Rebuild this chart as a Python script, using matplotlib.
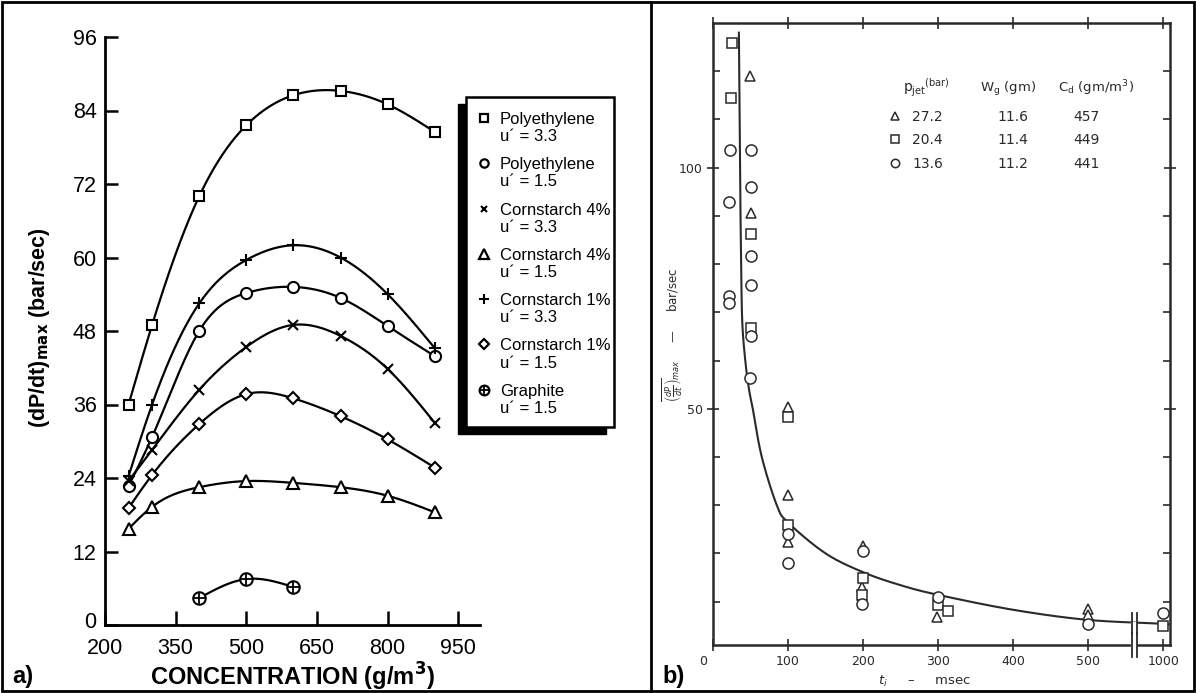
import numpy as np
import matplotlib
matplotlib.use("Agg")
import matplotlib.pyplot as plt
import matplotlib.transforms as mtransforms
from matplotlib.patches import Rectangle
from matplotlib.lines import Line2D

# ---------------- data: panel a ----------------
conc = [250, 300, 400, 500, 600, 700, 800, 900]
poly_33 = [36, 49, 70, 81.6, 86.5, 87.2, 85, 80.5]
poly_15 = [22.7, 30.7, 48, 54.2, 55.2, 53.4, 48.8, 43.9]
corn4_33 = [23.5, 28.6, 38.4, 45.4, 49, 47.2, 41.8, 33]
corn4_15 = [15.7, 19.3, 22.5, 23.5, 23.2, 22.5, 21.1, 18.4]
corn1_33 = [24.3, 36, 52.5, 59.6, 62, 60, 54, 45.2]
corn1_15 = [19.1, 24.5, 32.8, 37.7, 37, 34.1, 30.3, 25.7]
graphite_conc = [400, 500, 600]
graphite = [4.4, 7.5, 6.2]
legend_names = ["Polyethylene", "Polyethylene", "Cornstarch 4%", "Cornstarch 4%",
                "Cornstarch 1%", "Cornstarch 1%", "Graphite"]
legend_u = ["u\u00b4 = 3.3", "u\u00b4 = 1.5", "u\u00b4 = 3.3", "u\u00b4 = 1.5",
            "u\u00b4 = 3.3", "u\u00b4 = 1.5", "u\u00b4 = 1.5"]
xticks_a = [200, 350, 500, 650, 800, 950]
yticks_a = [0, 12, 24, 36, 48, 60, 72, 84, 96]

# ---------------- data: panel b ----------------
tri_t = [49, 50, 100, 100, 100, 200, 199, 299, 500, 500]
tri_v = [119, 90.5, 50.3, 32.2, 22.3, 21.5, 13, 6.8, 8.5, 7.2]
sq_t = [25, 24, 50, 50, 100, 100, 200, 199, 300, 313, 1000]
sq_v = [125.8, 114.5, 86.2, 66.7, 48.3, 25.8, 14.9, 11.4, 9.3, 8.1, 5.0]
ci_t = [23, 50, 50, 21, 50, 50, 21, 21, 50, 49, 100, 100, 200, 199, 300, 500, 1000]
ci_v = [103.7, 103.7, 95.9, 92.8, 81.6, 75.6, 73.3, 71.9, 65, 56.4, 24, 18, 20.5, 9.5, 11, 5.4, 7.6]
fit_t = [34.5, 36, 37.5, 39, 43, 48, 53, 65, 85, 100, 150, 200, 250, 300, 400, 500, 560, 1000]
fit_v = [128, 100, 80, 68, 60, 54, 50, 40, 30, 26.4, 20, 16.1, 13.4, 11.4, 8.3, 6.2, 5.4, 5.2]
xticks_b = [0, 100, 200, 300, 400, 500, 1000]
pjet = ["27.2", "20.4", "13.6"]
wg = ["11.6", "11.4", "11.2"]
cd = ["457", "449", "441"]

W, H = 1196, 693
fig = plt.figure(figsize=(W / 100, H / 100), dpi=100)


def axes_px(x0, y0, x1, y1):
    return fig.add_axes([x0 / W, 1 - y1 / H, (x1 - x0) / W, (y1 - y0) / H])


def fx(px):
    return px / W


def fy(py):
    return 1 - py / H


def natural_spline(x, y, n=300):
    x = np.asarray(x, float)
    y = np.asarray(y, float)
    m = len(x)
    h = np.diff(x)
    A = np.zeros((m, m))
    b = np.zeros(m)
    A[0, 0] = A[-1, -1] = 1
    for i in range(1, m - 1):
        A[i, i - 1] = h[i - 1]
        A[i, i] = 2 * (h[i - 1] + h[i])
        A[i, i + 1] = h[i]
        b[i] = 6 * ((y[i + 1] - y[i]) / h[i] - (y[i] - y[i - 1]) / h[i - 1])
    M = np.linalg.solve(A, b)
    xs = np.linspace(x[0], x[-1], n)
    idx = np.clip(np.searchsorted(x, xs) - 1, 0, m - 2)
    x0 = x[idx]
    x1 = x[idx + 1]
    hh = x1 - x0
    t0 = x1 - xs
    t1 = xs - x0
    ys = (M[idx] * t0 ** 3 + M[idx + 1] * t1 ** 3) / (6 * hh) \
        + (y[idx] / hh - M[idx] * hh / 6) * t0 + (y[idx + 1] / hh - M[idx + 1] * hh / 6) * t1
    return xs, ys


def catmull(px, py, n=30):
    P = np.column_stack([px, py])
    P = np.vstack([2 * P[0] - P[1], P, 2 * P[-1] - P[-2]])
    out = []
    t = np.linspace(0, 1, n, endpoint=False)[:, None]
    for i in range(1, len(P) - 2):
        p0, p1, p2, p3 = P[i - 1], P[i], P[i + 1], P[i + 2]
        pts = 0.5 * ((2 * p1) + (-p0 + p2) * t + (2 * p0 - 5 * p1 + 4 * p2 - p3) * t ** 2
                     + (-p0 + 3 * p1 - 3 * p2 + p3) * t ** 3)
        out.append(pts)
    out.append(P[-2][None, :])
    return np.vstack(out)


SANS = ["Liberation Sans", "DejaVu Sans"]

# ================= panel a =================
axA = axes_px(105, 37, 480, 625)
axA.set_xlim(200, 996)
axA.set_ylim(0, 96)
for s in ["top", "right"]:
    axA.spines[s].set_visible(False)
for s in ["left", "bottom"]:
    axA.spines[s].set_linewidth(2)
axA.set_xticks(xticks_a)
axA.set_yticks(yticks_a)
axA.set_xticklabels([str(v) for v in xticks_a], fontsize=15.5, family=SANS)
axA.set_yticklabels([str(v) for v in yticks_a], fontsize=15.5, family=SANS)
axA.tick_params(axis="x", direction="in", length=10, width=1.8, pad=9)
axA.tick_params(axis="y", direction="in", length=9, width=1.8, pad=6)
# lift the "0" label a little, as in the reference
lab0 = axA.get_yticklabels()[0]
lab0.set_transform(lab0.get_transform() + mtransforms.ScaledTranslation(0, 5 / 100, fig.dpi_scale_trans))

series = [
    (conc, poly_33, dict(marker="s", ms=7)),
    (conc, poly_15, dict(marker="o", ms=8)),
    (conc, corn4_33, dict(marker="x", ms=6.5, mew=1.5)),
    (conc, corn4_15, dict(marker="^", ms=8)),
    (conc, corn1_33, dict(marker="+", ms=8, mew=1.5)),
    (conc, corn1_15, dict(marker="D", ms=6.5)),
]
for x, y, mk in series:
    xs, ys = natural_spline(x, y)
    axA.plot(xs, ys, color="black", lw=1.6, zorder=2)
    kw = dict(color="black", mfc="white", mew=1.5, ls="none", zorder=3)
    kw.update(mk)
    axA.plot(x, y, **kw)
xs, ys = natural_spline(graphite_conc, graphite)
axA.plot(xs, ys, color="black", lw=1.6, zorder=2)
axA.plot(graphite_conc, graphite, ls="none", marker="o", ms=9, mfc="white", mec="black", mew=1.5, zorder=3)
axA.plot(graphite_conc, graphite, ls="none", marker="+", ms=9, mec="black", mew=1.3, zorder=4)

axA.set_xlabel("CONCENTRATION (g/m$^\\mathbf{3}$)", fontsize=17, fontweight="bold", family=SANS, labelpad=2)
fig.text(fx(40), fy(328), "(dP/dt)$_{\\mathbf{max}}$ (bar/sec)", rotation=90, ha="center", va="center",
         fontsize=15.5, fontweight="bold", family=SANS)

# legend (manual, with shadow)
fig.add_artist(Rectangle((fx(458), fy(434)), (606 - 458) / W, (434 - 104) / H,
                         transform=fig.transFigure, facecolor="black", edgecolor="black", zorder=5))
fig.add_artist(Rectangle((fx(466), fy(427)), (614 - 466) / W, (427 - 97) / H,
                         transform=fig.transFigure, facecolor="white", edgecolor="black", lw=1.8, zorder=6))
leg_markers = [dict(marker="s", ms=5.5), dict(marker="o", ms=6), dict(marker="x", ms=5, mew=1.5),
               dict(marker="^", ms=6.5), dict(marker="+", ms=6.5, mew=1.5), dict(marker="D", ms=5),
               dict(marker="o", ms=7)]
for i, (name, u) in enumerate(zip(legend_names, legend_u)):
    base = 124 + 45.3 * i
    kw = dict(color="black", mfc="white", mew=1.6, ls="none")
    kw.update(leg_markers[i])
    fig.add_artist(Line2D([fx(484)], [fy(base - 6)], transform=fig.transFigure, zorder=7, **kw))
    if i == 6:
        fig.add_artist(Line2D([fx(484)], [fy(base - 6)], transform=fig.transFigure, zorder=8,
                              marker="+", ms=7, mec="black", mew=1.3, ls="none"))
    fig.text(fx(500), fy(base), name, fontsize=12, family=SANS, va="baseline", ha="left", zorder=7)
    fig.text(fx(500), fy(base + 17), u, fontsize=12, family=SANS, va="baseline", ha="left", zorder=7)

fig.text(fx(12), fy(677), "a)", fontsize=17, fontweight="bold", family=SANS, va="center", ha="left")

# ================= panel b =================
INK = "#2a2a2a"
FB = ["DejaVu Sans"]


def tpos(t):
    return np.where(np.asarray(t, float) > 550, 600.0, np.asarray(t, float))


axB = axes_px(713, 23, 1170, 645)
axB.set_xlim(0, 609)
axB.set_ylim(1, 130)
for s in axB.spines.values():
    s.set_linewidth(1.8)
    s.set_color(INK)
xt = tpos(xticks_b)
axB.set_xticks(xt)
axB.set_xticklabels([str(v) for v in xticks_b], fontsize=9, family=FB, color=INK)
axB.set_yticks([50, 100])
axB.set_yticklabels(["50", "100"], fontsize=9, family=FB, color=INK)
axB.set_yticks(np.arange(10, 130, 10), minor=True)
axB.tick_params(axis="both", which="major", direction="inout", length=9, width=1.2, color=INK, pad=3,
                top=True, right=True)
axB.tick_params(axis="both", which="minor", direction="in", length=5, width=1.2, color=INK,
                right=True)
axB.tick_params(axis="x", top=True, labeltop=False)
xl0 = axB.get_xticklabels()[0]
xl0.set_transform(xl0.get_transform() + mtransforms.ScaledTranslation(-10 / 100, 0, fig.dpi_scale_trans))

fitp = catmull(tpos(fit_t) / 600.0, np.asarray(fit_v) / 130.0, n=40)
axB.plot(fitp[:, 0] * 600, fitp[:, 1] * 130, color=INK, lw=1.5, zorder=2)

mk = dict(ls="none", mfc="white", mec=INK, mew=1.1, zorder=3)
axB.plot(tpos(tri_t), tri_v, marker="^", ms=7.5, **mk)
axB.plot(tpos(sq_t), sq_v, marker="s", ms=6.5, **mk)
axB.plot(tpos(ci_t), ci_v, marker="o", ms=8, **mk)

# axis break marks
for xb in (558, 565):
    axB.plot([xb, xb], [-1.5, 3.5], color=INK, lw=1.3, clip_on=False, zorder=4)
    axB.plot([xb, xb], [3.2, 7.6], color=INK, lw=1.3, zorder=4)
axB.plot([560, 563], [1, 1], color="white", lw=3, clip_on=False, zorder=3)
axB.plot([560, 563], [5.4, 5.4], color="white", lw=3, zorder=3)

# table legend
rows_y = [120, 143, 167]
fig.text(fx(903), fy(92), "$\\mathregular{p_{jet}}^{\\mathregular{(bar)}}$", fontsize=10, family=FB, color=INK,
         va="baseline")
fig.text(fx(980), fy(92), "$\\mathregular{W_g}$ (gm)", fontsize=9.5, family=FB, color=INK, va="baseline")
fig.text(fx(1058), fy(92), "$\\mathregular{C_d}$ (gm/m$^\\mathregular{3}$)", fontsize=9.5, family=FB,
         color=INK, va="baseline")
tbl_markers = ["^", "s", "o"]
for i in range(3):
    yb = rows_y[i]
    fig.add_artist(Line2D([fx(895)], [fy(yb - 4)], transform=fig.transFigure, marker=tbl_markers[i],
                          ms=6, mfc="white", mec=INK, mew=1.1, ls="none"))
    fig.text(fx(912), fy(yb + 1), pjet[i], fontsize=10, family=FB, color=INK, va="baseline")
    fig.text(fx(997), fy(yb + 1), wg[i], fontsize=10, family=FB, color=INK, va="baseline")
    fig.text(fx(1073), fy(yb + 1), cd[i], fontsize=10, family=FB, color=INK, va="baseline")

fig.text(fx(673), fy(335),
         "$\\overline{\\left(\\frac{dP}{dt}\\right)}_{max}$     \u2014     bar/sec",
         rotation=90, ha="center", va="center", fontsize=8.5, family=FB, color=INK)
fig.text(fx(925), fy(681), "$t_i$     \u2013     msec", ha="center", va="center", fontsize=9.5,
         family=FB, color=INK)

fig.text(fx(662), fy(677), "b)", fontsize=17, fontweight="bold", family=SANS, va="center", ha="left")

# frame and divider
fig.add_artist(Rectangle((fx(2), fy(691)), (1194 - 2) / W, (691 - 2) / H, transform=fig.transFigure,
                         fill=False, edgecolor="black", lw=2, zorder=10))
fig.add_artist(Line2D([fx(651), fx(651)], [fy(2), fy(691)], transform=fig.transFigure, color="black",
                      lw=2, zorder=10))

fig.savefig("out.png", dpi=100)
